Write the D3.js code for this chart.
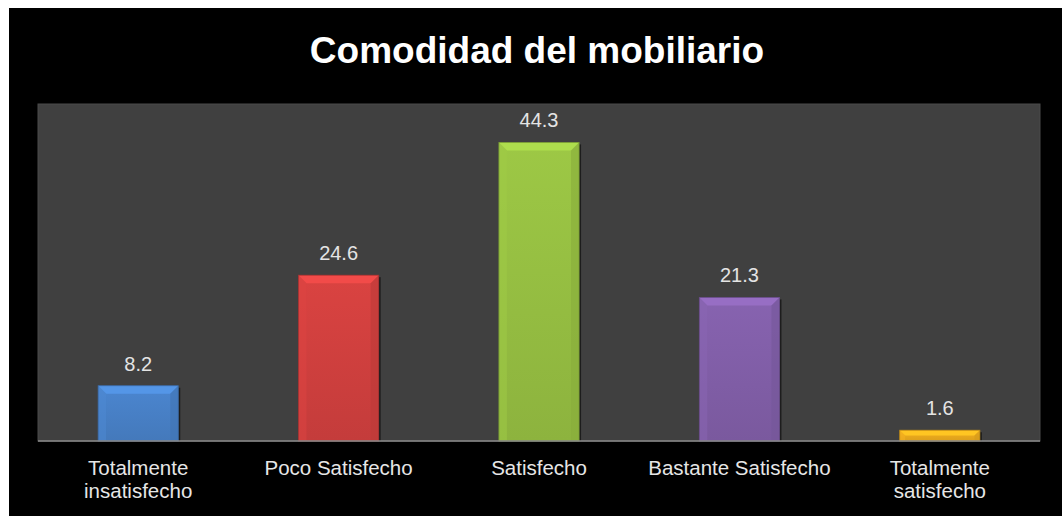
<!DOCTYPE html>
<html><head><meta charset="utf-8">
<script src="https://cdn.jsdelivr.net/npm/d3@7"></script>
<style>html,body{margin:0;padding:0;background:#fff;}svg{display:block;}</style>
</head><body>
<svg id="c" width="1062" height="516"></svg>
<script>
const categories = [["Totalmente","insatisfecho"],["Poco Satisfecho"],["Satisfecho"],["Bastante Satisfecho"],["Totalmente","satisfecho"]];
const values = [8.2, 24.6, 44.3, 21.3, 1.6];
const colors = ["#4a84cc","#d64240","#9ac444","#8561ad","#f0ae1e"];
const title = "Comodidad del mobiliario";
const yDomain = [0, 50];

const svg = d3.select("#c");
const font = "'Liberation Sans', Arial, sans-serif";
svg.append("rect").attr("x",9).attr("y",8).attr("width",1053).attr("height",508).attr("fill","#000");

const plot = {l:38, r:1040, t:104, b:441};
svg.append("rect").attr("x",plot.l).attr("y",plot.t).attr("width",plot.r-plot.l).attr("height",plot.b-plot.t)
  .attr("fill","#404040").attr("stroke","#4a4a4a").attr("stroke-width",1);

const x = d3.scaleBand().domain(d3.range(values.length)).range([plot.l, plot.r]).paddingInner(0.6).paddingOuter(0.3);
const y = d3.scaleLinear().domain(yDomain).range([plot.b, plot.t]);

const defs = svg.append("defs");
colors.forEach((c,i)=>{
  const g = defs.append("linearGradient").attr("id","g"+i).attr("x1",0).attr("x2",0).attr("y1",0).attr("y2",1);
  g.append("stop").attr("offset",0).attr("stop-color",d3.color(c).brighter(0.05));
  g.append("stop").attr("offset",1).attr("stop-color",d3.color(c).darker(0.25));
});

const bars = svg.append("g");
values.forEach((v,i)=>{
  const x0 = x(i), w = x.bandwidth(), y0 = y(v), y1 = y(0), h = y1-y0;
  const bv = Math.min(8, h/2);
  const g = bars.append("g");
  g.append("rect").attr("x",x0+2).attr("y",y0+2).attr("width",w).attr("height",h-2).attr("fill","rgba(0,0,0,0.55)");
  g.append("rect").attr("x",x0).attr("y",y0).attr("width",w).attr("height",h).attr("fill","url(#g"+i+")");
  const cc = d3.color(colors[i]);
  g.append("polygon").attr("points",[[x0,y0],[x0+w,y0],[x0+w-bv,y0+bv],[x0+bv,y0+bv]].join(" "))
    .attr("fill",cc.brighter(0.35));
  g.append("polygon").attr("points",[[x0,y0],[x0+bv,y0+bv],[x0+bv,y1],[x0,y1]].join(" "))
    .attr("fill",cc.brighter(0.1)).attr("opacity",0.5);
  g.append("polygon").attr("points",[[x0+w,y0],[x0+w-bv,y0+bv],[x0+w-bv,y1],[x0+w,y1]].join(" "))
    .attr("fill",cc.darker(0.35)).attr("opacity",0.6);
  g.append("rect").attr("x",x0).attr("y",y0).attr("width",w).attr("height",h).attr("fill","none")
    .attr("stroke",cc.darker(0.7)).attr("stroke-width",0.8);
  svg.append("text").attr("x",x0+w/2).attr("y",y0-15).attr("text-anchor","middle")
    .attr("font-family",font).attr("font-size",20).attr("fill","#e4e4e4").text(v.toFixed(1));
});

const axis = d3.axisBottom(x).tickSize(0).tickFormat("");
const ax = svg.append("g").attr("transform",`translate(0,${plot.b})`).call(axis);
ax.select(".domain").attr("stroke","#8a8a8a").attr("stroke-width",1.5).attr("d",`M${plot.l},0H${plot.r}`);

categories.forEach((lines,i)=>{
  const cx = x(i)+x.bandwidth()/2;
  const t = svg.append("text").attr("x",cx).attr("y",475).attr("text-anchor","middle")
    .attr("font-family",font).attr("font-size",20.5).attr("fill","#e6e6e6");
  lines.forEach((l,j)=>t.append("tspan").attr("x",cx).attr("dy",j?23:0).text(l));
});

svg.append("text").attr("x",537).attr("y",63).attr("text-anchor","middle").attr("font-family",font)
  .attr("font-weight","bold").attr("font-size",37).attr("fill","#fff").text(title);
</script>
</body></html>
